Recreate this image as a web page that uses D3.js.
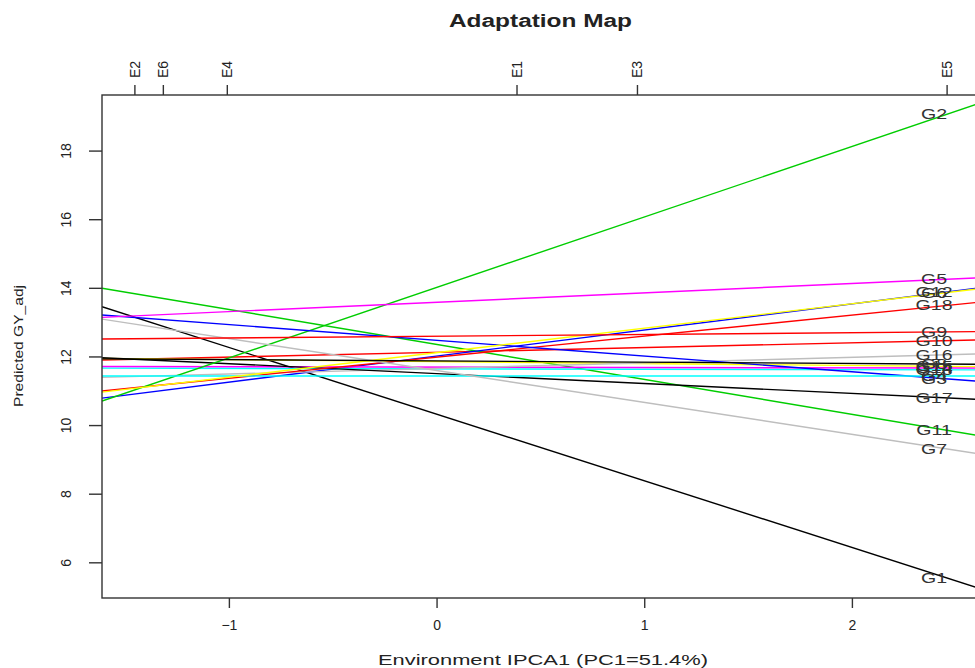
<!DOCTYPE html>
<html>
<head>
<meta charset="utf-8">
<script src="https://cdn.jsdelivr.net/npm/d3@7"></script>
<style>
  html, body { margin: 0; padding: 0; background: #fff; }
  svg { display: block; }
  text { font-family: "Liberation Sans", Arial, sans-serif; fill: #222; }
</style>
</head>
<body>
<svg id="chart" width="975" height="668"></svg>
<script>
// ---- data ----
const genotypes = ["G1","G2","G3","G4","G5","G6","G7","G8","G9","G10","G11","G12","G13","G14","G15","G16","G17","G18"];
// predicted GY_adj at environment score 0 (genotype mean)
const genoMean  = [10.32, 14.01, 12.47, 11.43, 13.58, 12.11, 11.59, 11.87, 12.59, 12.12, 12.35, 12.01, 11.64, 11.69, 11.85, 11.65, 11.50, 11.98];
// genotype sensitivity (slope along environment IPCA1)
const genoSlope = [-1.943, 2.054, -0.458, 0.000, 0.273, 0.713, -0.930, -0.037, 0.051, 0.139, -1.018, 0.761, -0.012, -0.011, -0.057, 0.162, -0.288, 0.613];
const envNames = ["E2","E6","E4","E1","E3","E5"];
const envScore = [-1.455, -1.318, -1.010, 0.385, 0.965, 2.456];
const xTicks = [-1, 0, 1, 2];
const yTicks = [6, 8, 10, 12, 14, 16, 18];
const xDomain = [-1.611, 2.612];
const yDomain = [4.96, 19.62];
const labelEnv = "E5";

// ---- styles ----
const palette = ["#000000","#FF0000","#00CD00","#0000FF","#00FFFF","#FF00FF","#FFFF00","#BEBEBE"];
const sortedNames = genotypes.slice().sort();
const colorOf = g => palette[sortedNames.indexOf(g) % palette.length];

const M = {left: 102, right: 979, top: 95, bottom: 598};

const svg = d3.select("#chart");
const x = d3.scaleLinear().domain(xDomain).range([M.left, M.right]);
const y = d3.scaleLinear().domain(yDomain).range([M.bottom, M.top]);

svg.append("defs").append("clipPath").attr("id", "plotclip")
  .append("rect").attr("x", M.left).attr("y", M.top)
  .attr("width", M.right - M.left).attr("height", M.bottom - M.top);

// lines
const rows = genotypes.map((g, i) => ({g, mean: genoMean[i], slope: genoSlope[i]}));
const drawOrder = sortedNames.map(n => rows.find(r => r.g === n));
const gLines = svg.append("g").attr("clip-path", "url(#plotclip)");
gLines.selectAll("line").data(drawOrder).join("line")
  .attr("x1", x(xDomain[0])).attr("x2", x(xDomain[1]))
  .attr("y1", d => y(d.mean + d.slope * xDomain[0]))
  .attr("y2", d => y(d.mean + d.slope * xDomain[1]))
  .attr("stroke", d => colorOf(d.g))
  .attr("stroke-width", 1.4);

// genotype labels at E5
const e5 = envScore[envNames.indexOf(labelEnv)];
const labelX = x(e5) - 12.5;
svg.append("g").selectAll("text").data(rows).join("text")
  .attr("transform", d => `translate(${labelX},${y(d.mean + d.slope * e5) + 5}) scale(1.4,1)`)
  .attr("text-anchor", "middle")
  .style("font-size", "14px")
  .style("fill", "#333")
  .text(d => d.g);

// frame
svg.append("rect").attr("x", M.left).attr("y", M.top)
  .attr("width", M.right - M.left).attr("height", M.bottom - M.top)
  .attr("fill", "none").attr("stroke", "#333").attr("stroke-width", 1.4);

// bottom axis
const ax = svg.append("g").attr("transform", `translate(0,${M.bottom})`)
  .call(d3.axisBottom(x).tickValues(xTicks).tickFormat(d3.format("d")).tickSize(10).tickPadding(12));
ax.select(".domain").remove();
ax.selectAll("line").attr("stroke", "#333").attr("stroke-width", 1.4);
ax.selectAll("text").style("font-size", "14px").style("fill", "#222").attr("font-family", null);

// left axis
const ay = svg.append("g").attr("transform", `translate(${M.left},0)`)
  .call(d3.axisLeft(y).tickValues(yTicks).tickSize(13).tickFormat(d3.format("d")));
ay.select(".domain").remove();
ay.selectAll("line").attr("stroke", "#333").attr("stroke-width", 1.4);
ay.selectAll("text").remove();
ay.selectAll(".tick").append("text")
  .attr("transform", "translate(-36,0) rotate(-90)")
  .attr("text-anchor", "middle").attr("dy", "0.35em")
  .style("font-size", "14px").style("fill", "#222")
  .text(d => d);

// top axis (environments)
const at = svg.append("g").attr("transform", `translate(0,${M.top})`)
  .call(d3.axisTop(x).tickValues(envScore).tickSize(10).tickFormat((d, i) => envNames[i]));
at.select(".domain").remove();
at.selectAll("line").attr("stroke", "#333").attr("stroke-width", 1.4);
at.selectAll("text").remove();
at.selectAll(".tick").append("text")
  .attr("transform", "translate(0,-17) rotate(-90)")
  .attr("text-anchor", "start").attr("dy", "0.35em")
  .style("font-size", "14px").style("fill", "#222")
  .text((d, i) => envNames[i]);

// titles
svg.append("text").attr("x", (M.left + M.right) / 2).attr("y", 27)
  .attr("text-anchor", "middle").style("font-weight", "bold").style("font-size", "18px")
  .attr("textLength", 183).attr("lengthAdjust", "spacingAndGlyphs")
  .text("Adaptation Map");
svg.append("text").attr("x", 543).attr("y", 665)
  .attr("text-anchor", "middle").style("font-size", "14px")
  .attr("textLength", 330).attr("lengthAdjust", "spacingAndGlyphs")
  .text("Environment IPCA1 (PC1=51.4%)");
svg.append("text").attr("transform", "translate(23,346) rotate(-90)")
  .attr("text-anchor", "middle").style("font-size", "13px")
  .attr("textLength", 122).attr("lengthAdjust", "spacingAndGlyphs")
  .text("Predicted GY_adj");
</script>
</body>
</html>
